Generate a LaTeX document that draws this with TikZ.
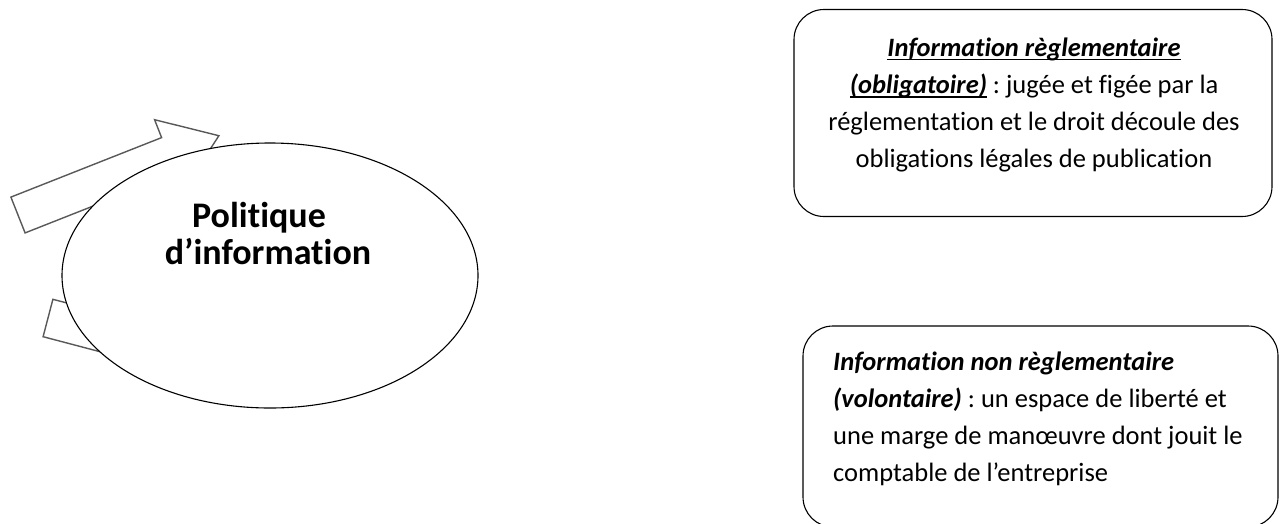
\documentclass[tikz,border=0pt]{standalone}
\usepackage{fontspec}
\setmainfont{Carlito}[Ligatures={NoCommon}]
\usetikzlibrary{shapes.geometric}
\frenchspacing
\newcommand\wordul[1]{\setbox0\hbox{#1}\rlap{\rule[-4.2pt]{\wd0}{1.8pt}}\box0\relax}
\tikzset{
  blockarrow/.style={draw=black!65, line width=1.4pt, line join=miter, fill=white},
  bubble/.style={ellipse, draw=black, line width=1.1pt, fill=white, inner sep=0pt,
                 minimum width=416pt, minimum height=265pt},
  roundbox/.style={draw=black, line width=1.1pt, rounded corners=30pt},
  boxtext/.style={inner sep=0pt, font=\frenchspacing\fontsize{26.5}{37.2}\selectfont},
  titletext/.style={inner sep=0pt, align=center, font=\fontsize{36}{36.5}\selectfont\bfseries}
}
\begin{document}
\begin{tikzpicture}[x=1pt,y=-1pt]
\useasboundingbox (0,0) rectangle (1281,523);
% block arrows (behind the ellipse)
\draw[blockarrow] (10.9,197.1) -- (161.6,137.6) -- (154.6,119.7) -- (218.9,135.7)
   -- (182.8,191.3) -- (175.8,173.4) -- (25.1,232.9) -- cycle;
\draw[blockarrow] (52.9,299.3) -- (209.6,340.6) -- (214.5,322.1) -- (256.9,373.1)
   -- (194.9,396.5) -- (199.8,378.0) -- (43.1,336.7) -- cycle;
% central ellipse
\node[bubble] (pol) at (270,275.5) {};
\node[titletext, anchor=base] (poltxt) at (268,264) {Politique\hspace*{18pt}\\d’information};
% boxes
\draw[roundbox] (794,9.5) rectangle (1272,216.5);
\node[inner sep=0pt] (reg) at (1033,113) {};
\draw[roundbox] (803,326) rectangle (1278,527);
\node[inner sep=0pt] (nonreg) at (1040,426) {};
\node[boxtext, align=center, anchor=north] (regtxt) at (1034,30) {%
  \strut\wordul{\textbf{\textit{Information règlementaire}}}\\
  \wordul{\textbf{\textit{(obligatoire)}}} : jugée et figée par la\\
  réglementation et le droit découle des\\
  obligations légales de publication};
\node[boxtext, align=left, anchor=north west] (nonregtxt) at (833,344) {%
  \strut\textbf{\textit{Information non règlementaire}}\\
  \textbf{\textit{(volontaire)}} : un espace de liberté et\\
  une marge de manœuvre dont jouit le\\
  comptable de l’entreprise};
\end{tikzpicture}
\end{document}
